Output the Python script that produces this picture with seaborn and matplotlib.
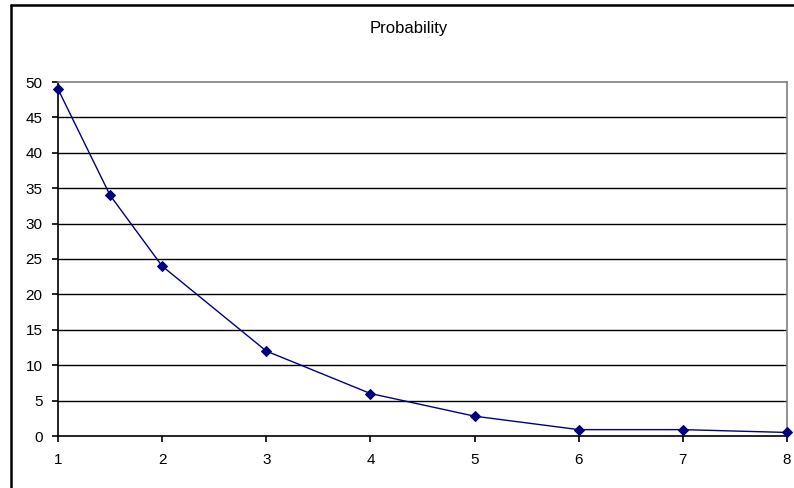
import matplotlib
matplotlib.use("Agg")
import matplotlib.pyplot as plt
from matplotlib.lines import Line2D
import seaborn as sns
import pandas as pd

x_values = [1, 1.5, 2, 3, 4, 5, 6, 7, 8]
probability = [49, 34, 24, 12, 6, 2.8, 0.9, 0.9, 0.5]
y_ticks = [0, 5, 10, 15, 20, 25, 30, 35, 40, 45, 50]
x_ticks = [1, 2, 3, 4, 5, 6, 7, 8]
title = "Probability"

df = pd.DataFrame({"x": x_values, "p": probability})

sns.set_theme(style="white")
plt.rcParams['font.family'] = ['Liberation Sans', 'DejaVu Sans']

fig = plt.figure(figsize=(7.94, 4.88), dpi=100)
ax = fig.add_axes([58/794, 52/488, (787-58)/794, (436-82)/488])

sns.lineplot(data=df, x="x", y="p", ax=ax, color="#000080", linewidth=1.0,
             marker="D", markersize=5.5, markeredgecolor="#000080",
             markerfacecolor="#000080", clip_on=False, zorder=5)

ax.set_xlim(1, 8)
ax.set_ylim(0, 50)
ax.set_xticks(x_ticks)
ax.set_yticks(y_ticks)
ax.set_xticklabels([str(t) for t in x_ticks], fontsize=11, color="black")
ax.set_yticklabels([str(t) for t in y_ticks], fontsize=11, color="black")
ax.set_xlabel("")
ax.set_ylabel("")

for yv in y_ticks[1:-1]:
    ax.axhline(yv, color="black", linewidth=1.0, zorder=1)

ax.spines['left'].set_color("black")
ax.spines['bottom'].set_color("black")
ax.spines['left'].set_linewidth(1.2)
ax.spines['bottom'].set_linewidth(1.2)
ax.spines['top'].set_color("#808080")
ax.spines['right'].set_color("#808080")
ax.spines['top'].set_linewidth(1.2)
ax.spines['right'].set_linewidth(1.2)

ax.tick_params(axis='both', which='major', direction='out', length=4, width=1.2,
               color="black", bottom=True, left=True)
ax.tick_params(axis='x', pad=8.5)
ax.tick_params(axis='y', pad=7)

fig.text(409/794, 1 - 28/488, title, ha="center", va="center", fontsize=12, color="black")

# outer chart frame (left and top edges visible)
fig.add_artist(Line2D([11/794, 11/794], [0, 1 - 5/488], transform=fig.transFigure,
                      color="black", linewidth=1.8))
fig.add_artist(Line2D([11/794, 1], [1 - 5/488, 1 - 5/488], transform=fig.transFigure,
                      color="black", linewidth=1.8))

fig.savefig("out.png", dpi=100, facecolor="white")
